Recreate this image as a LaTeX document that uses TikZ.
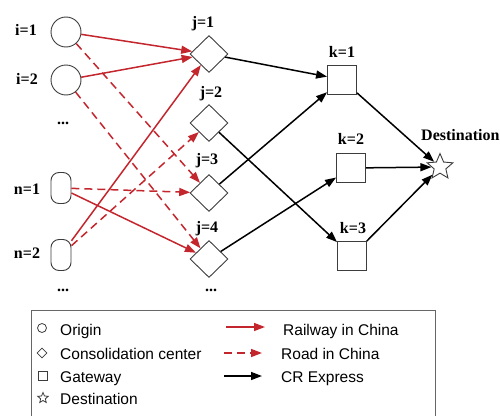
\documentclass[tikz,border=0pt]{standalone}
\usepackage{fontspec}
\setmainfont{Liberation Serif}
\setsansfont{Liberation Sans}
\usetikzlibrary{arrows.meta,shapes.geometric}
\definecolor{rail}{RGB}{196,38,46}
\definecolor{edge}{RGB}{60,60,60}

\begin{document}
\begin{tikzpicture}[x=1pt,y=-1pt,
  origin/.style={circle,draw=edge,line width=0.9pt,minimum size=30pt,inner sep=0pt},
  hubn/.style={rectangle,rounded corners=8pt,draw=edge,line width=0.9pt,minimum width=20pt,minimum height=31pt,inner sep=0pt},
  consol/.style={diamond,draw=edge,line width=0.9pt,minimum width=38pt,minimum height=37pt,inner sep=0pt},
  gate/.style={rectangle,draw=edge,line width=0.9pt,minimum size=29pt,inner sep=0pt},
  dest/.style={star,star points=5,star point ratio=2.2,draw=edge,line width=0.9pt,minimum size=27pt,inner sep=0pt},
  lbl/.style={font=\bfseries\fontsize{16}{16}\selectfont,inner sep=0pt},
  legtxt/.style={font=\sffamily\fontsize{15.5}{16}\selectfont,anchor=base west,inner sep=0pt},
  tip/.style={-{Triangle[length=11pt,width=8pt]}},
  railway/.style={draw=rail,line width=1.5pt,tip},
  road/.style={railway,dash pattern=on 8pt off 5pt},
  express/.style={draw=black,line width=1.5pt,tip}]

\useasboundingbox (0,0) rectangle (500,415);

% origins and their labels
\node[origin] (i1) at (66,32) {};
\node[origin] (i2) at (66,80) {};
\node[hubn] (n1) at (61,188) {};
\node[hubn] (n2) at (61,255) {};
\node[lbl] (li1) at (26,30) {i=1};
\node[lbl] (li2) at (27,79) {i=2};
\node[lbl] (ln1) at (27,189) {n=1};
\node[lbl] (ln2) at (27,253) {n=2};
\node[lbl] (dotsi) at (63,123) {...};
\node[lbl] (dotsn) at (63,290) {...};

% consolidation centres
\node[consol] (j1) at (209,54) {};
\node[consol] (j2) at (209,123) {};
\node[consol] (j3) at (209,193) {};
\node[consol] (j4) at (209,259) {};
\node[lbl] (lj1) at (203,24) {j=1};
\node[lbl] (lj2) at (211,94) {j=2};
\node[lbl] (lj3) at (207,161) {j=3};
\node[lbl] (lj4) at (207,229) {j=4};
\node[lbl] (dotsj) at (211,290) {...};

% gateways
\node[gate] (k1) at (342,79.5) {};
\node[gate] (k2) at (351,168) {};
\node[gate] (k3) at (352,256) {};
\node[lbl] (lk1) at (342,52) {k=1};
\node[lbl] (lk2) at (351,139) {k=2};
\node[lbl] (lk3) at (353,228) {k=3};

% destination
\node[dest] (d) at (440,167) {};
\node[lbl,anchor=west] (ld) at (421,135) {Destination};

% railway in China
\draw[railway] (i1) -- (j1);
\draw[railway] (i2) -- (j1);
\draw[railway] (n2) -- (j1);
\draw[railway] (n1) -- (j4);

% road in China
\draw[road] (i1) -- (j3);
\draw[road] (i2) -- (j4);
\draw[road] (n1) -- (j3);
\draw[road] (n2) -- (j2);

% CR Express
\draw[express] (j1) -- (k1);
\draw[express] (j2) -- (k3);
\draw[express] (j3) -- (k1);
\draw[express] (j4) -- (k2);
\draw[express] (k1) -- (d);
\draw[express] (k2) -- (d);
\draw[express] (k3) -- (d);

% legend
\draw[draw=gray!80!black,line width=1pt] (31,310) rectangle (435,420);
\node[circle,draw=edge,line width=0.8pt,minimum size=9pt,inner sep=0pt] (sym1) at (42,328) {};
\node[diamond,draw=edge,line width=0.8pt,minimum width=10pt,minimum height=10pt,inner sep=0pt] (sym2) at (42,353) {};
\node[rectangle,draw=edge,line width=0.8pt,minimum size=8.5pt,inner sep=0pt] (sym3) at (43,376) {};
\node[star,star points=5,star point ratio=2.2,draw=edge,line width=0.8pt,minimum size=11pt,inner sep=0pt] (sym4) at (43,398) {};
\node[legtxt] (t1) at (60,335.5) {Origin};
\node[legtxt] (t2) at (60,359) {Consolidation center};
\node[legtxt] (t3) at (60,382) {Gateway};
\node[legtxt] (t4) at (60,404) {Destination};

\coordinate (a1s) at (226,327);
\coordinate (a1e) at (265,327);
\coordinate (a2s) at (224,353);
\coordinate (a2e) at (262,353);
\coordinate (a3s) at (224,376);
\coordinate (a3e) at (262,376);
\draw[railway] (a1s) -- (a1e);
\draw[road] (a2s) -- (a2e);
\draw[express] (a3s) -- (a3e);
\node[legtxt] (r1) at (283,335) {Railway in China};
\node[legtxt] (r2) at (281,359) {Road in China};
\node[legtxt] (r3) at (281,382) {CR Express};
\end{tikzpicture}
\end{document}
